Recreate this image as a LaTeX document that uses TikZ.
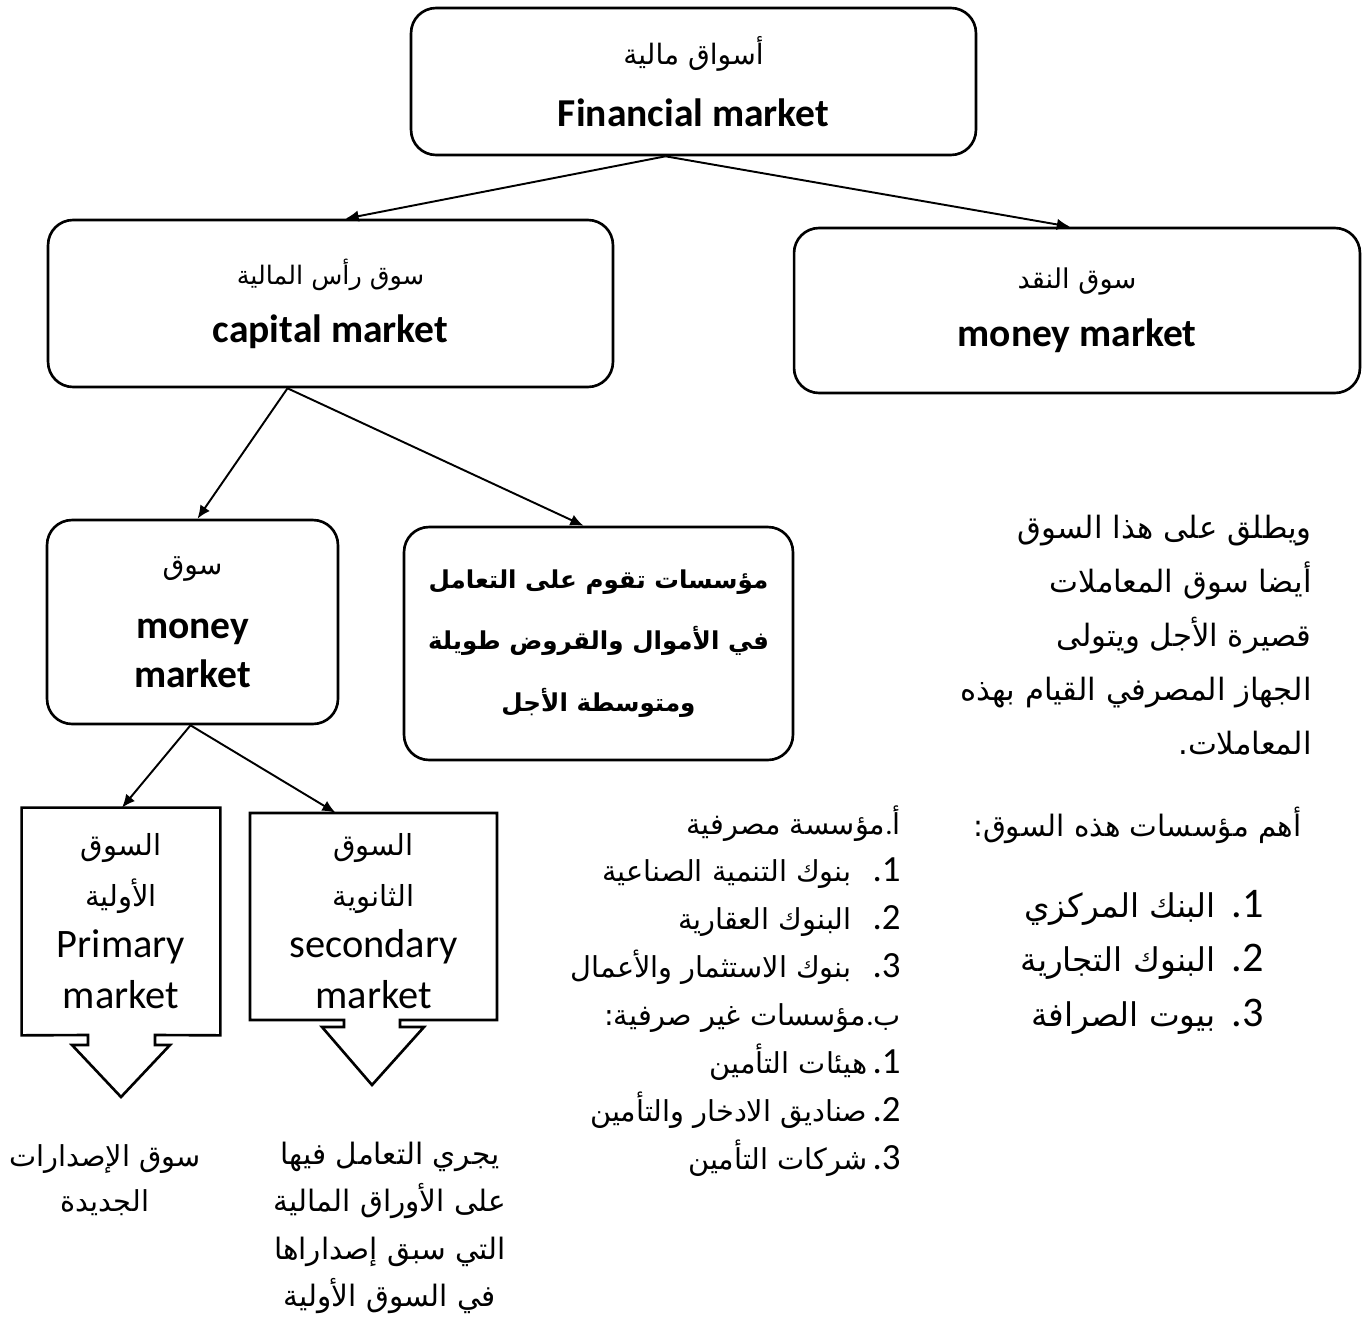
\documentclass[tikz,border=0pt]{standalone}
\usepackage{fontspec}
\setmainfont{Carlito}
\newfontfamily\arabicfont[Script=Arabic]{DejaVu Sans}
\TeXXeTstate=1
\usetikzlibrary{arrows.meta,calc}
\newcommand{\arsz}[1]{\arabicfont\fontsize{#1}{#1}\selectfont}
\newcommand{\lat}[2]{{\rmfamily\fontsize{#1}{#1}\selectfont #2}}
\begin{document}
\begin{tikzpicture}[x=0.02cm,y=-0.02cm,
  rbox/.style={draw,line width=1.5pt,rounded corners=0.5cm,align=center,inner sep=0pt},
  sbox/.style={inner sep=0pt},
  arr/.style={line width=1.1pt,-{Latex[length=7.5pt,width=6.5pt]}},
  outl/.style={line width=1.5pt,line join=miter}]
\useasboundingbox[fill=white] (0,0) rectangle (1368,1324);

% top level
\node[rbox,minimum width=11.3cm,minimum height=2.94cm,
  font=\fontsize{22.5}{35}\selectfont] (fin) at (693.5,81.5)
  {{\arsz{16}\beginR أسواق مالية\endR}\\{\bfseries Financial market}};
\node[rbox,minimum width=11.3cm,minimum height=3.34cm,
  font=\fontsize{22.5}{33}\selectfont] (cap) at (330.5,303.5)
  {{\arsz{14.5}\beginR سوق رأس المالية\endR}\\{\bfseries capital market}};
\node[rbox,minimum width=11.32cm,minimum height=3.3cm,
  font=\fontsize{22.5}{33}\selectfont] (mon) at (1077,310.5)
  {{\arsz{15.5}\beginR سوق النقد\endR}\\{\bfseries money market}};

% second level
\node[rbox,minimum width=5.82cm,minimum height=4.08cm,
  font=\fontsize{22.5}{27.5}\selectfont] (sub) at (192.5,622)
  {{\arsz{16}\beginR سوق\endR}\\[9pt]{\bfseries money}\\{\bfseries market}};
\node[rbox,minimum width=7.78cm,minimum height=4.66cm,
  font=\arabicfont\bfseries\fontsize{14}{35}\selectfont] (inst) at (598.5,643.5)
  {\beginR مؤسسات تقوم على التعامل\endR\\
   \beginR في الأموال والقروض طويلة\endR\\
   \beginR ومتوسطة الأجل\endR};

% third level
\node[sbox,align=center,minimum width=3.96cm,minimum height=4.54cm,
  font=\fontsize{23}{29}\selectfont] (prim) at (121,921.5)
  {{\arsz{16.5}\beginR السوق\endR}\\{\arsz{16.5}\beginR الأولية\endR}\\Primary\\market};
\node[sbox,align=center,minimum width=4.94cm,minimum height=4.14cm,
  font=\fontsize{23}{29}\selectfont] (sec) at (373.5,921.5)
  {{\arsz{16.5}\beginR السوق\endR}\\{\arsz{16.5}\beginR الثانوية\endR}\\secondary\\market};
\draw[outl] (prim.south west) -- (prim.north west) -- (prim.north east) -- (prim.south east)
  -- (155,1035) -- (155,1045) -- (170,1045) -- (121,1097) -- (72,1045) -- (88,1045) -- (88,1035) -- cycle;
\draw[outl] (250,1020) -- (250,813) -- (497,813) -- (497,1020)
  -- (400,1020) -- (400,1027) -- (424,1027) -- (372,1085) -- (322,1027) -- (344,1027) -- (344,1020) -- cycle;

% texts
\node[sbox,align=right,anchor=east,font=\arabicfont\fontsize{17.5}{30.7}\selectfont] (desc) at (1312,635)
  {\beginR ويطلق على هذا السوق\endR\\
   \beginR أيضا سوق المعاملات\endR\\
   \beginR قصيرة الأجل ويتولى\endR\\
   \beginR الجهاز المصرفي القيام بهذه\endR\\
   .\beginR المعاملات\endR};
\node[sbox,anchor=east,font=\arabicfont\fontsize{16.8}{24}\selectfont] (imp) at (1302,825)
  {:\beginR أهم مؤسسات هذه السوق\endR};
\node[sbox,align=right,anchor=east,font=\arabicfont\fontsize{18.6}{31}\selectfont] (cbl) at (1264,962)
  {\beginR البنك المركزي\endR\hspace{9pt}\lat{24}{.1}\\
   \beginR البنوك التجارية\endR\hspace{9pt}\lat{24}{.2}\\
   \beginR بيوت الصرافة\endR\hspace{9pt}\lat{24}{.3}};
\node[sbox,align=right,anchor=east,font=\arabicfont\fontsize{16.4}{27.3}\selectfont] (banks) at (901,991)
  {\beginR مؤسسة مصرفية\endR\lat{16.4}{.}أ\\
   \beginR بنوك التنمية الصناعية\endR\hspace{12pt}\lat{21}{.1}\\
   \beginR البنوك العقارية\endR\hspace{12pt}\lat{21}{.2}\\
   \beginR بنوك الاستثمار والأعمال\endR\hspace{12pt}\lat{21}{.3}\\
   :\beginR مؤسسات غير صرفية\endR\lat{16.4}{.}ب\\
   \beginR هيئات التأمين\endR\hspace{3pt}\lat{21}{.1}\\
   \beginR صناديق الادخار والتأمين\endR\hspace{3pt}\lat{21}{.2}\\
   \beginR شركات التأمين\endR\hspace{3pt}\lat{21}{.3}};
\node[sbox,align=center,font=\arabicfont\fontsize{16.4}{26}\selectfont] (newiss) at (105,1180)
  {\beginR سوق الإصدارات\endR\\\beginR الجديدة\endR};
\node[sbox,align=center,font=\arabicfont\fontsize{16.8}{27}\selectfont] (trade) at (390,1228)
  {\beginR يجري التعامل فيها\endR\\
   \beginR على الأوراق المالية\endR\\
   \beginR التي سبق إصداراها\endR\\
   \beginR في السوق الأولية\endR};

% connectors
\draw[arr] ($(fin.south)+(-28,0)$) -- ($(cap.north)+(15,0)$);
\draw[arr] ($(fin.south)+(-28,0)$) -- ($(mon.north)+(-7,0)$);
\draw[arr] ($(cap.south)+(-43,0)$) -- ($(sub.north)+(5,0)$);
\draw[arr] ($(cap.south)+(-43,0)$) -- ($(inst.north)+(-15,0)$);
\draw[arr] ($(sub.south)+(-2,0)$) -- ($(prim.north)+(1,0)$);
\draw[arr] ($(sub.south)+(-2,0)$) -- ($(sec.north)+(-38,-5)$);
\end{tikzpicture}
\end{document}
